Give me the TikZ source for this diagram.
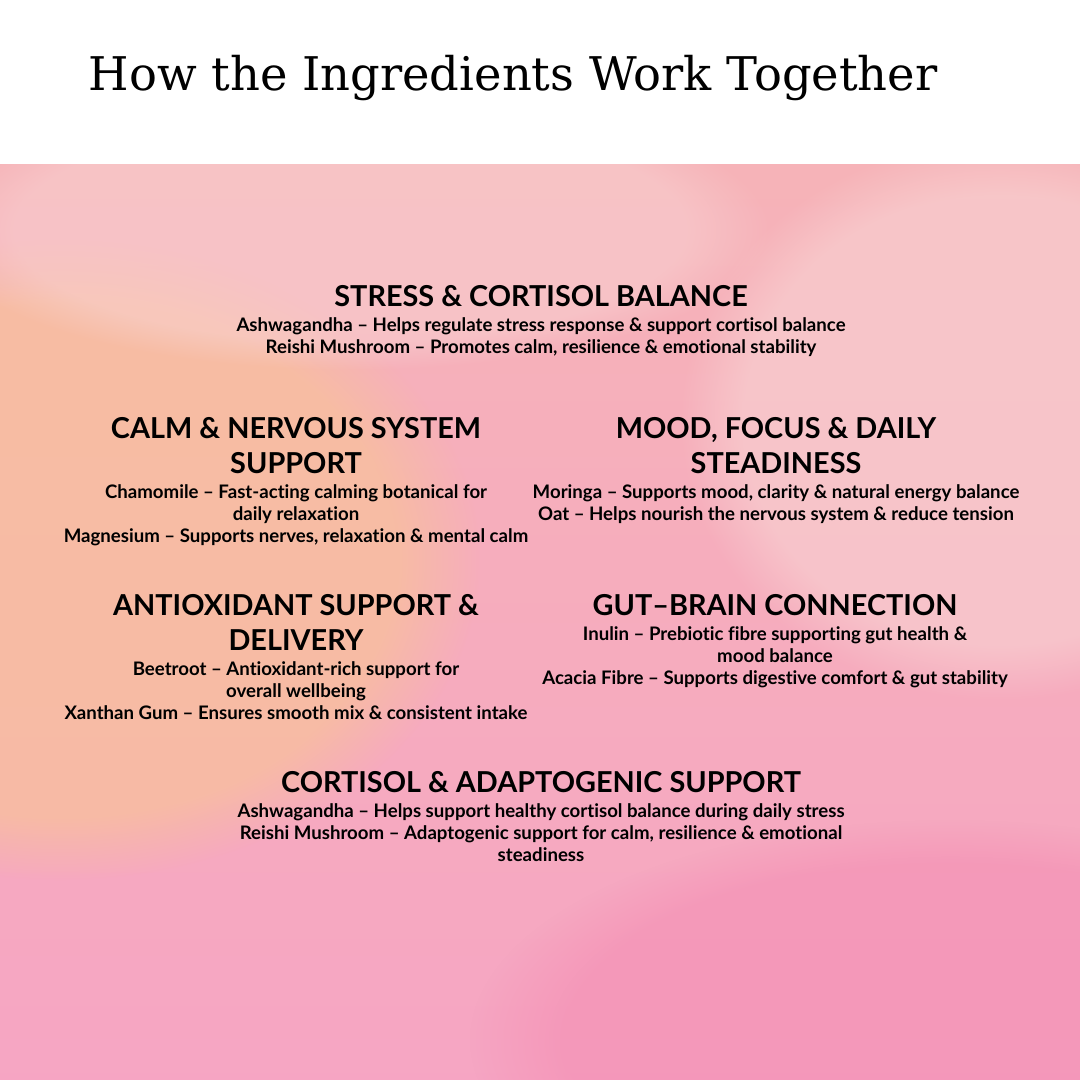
\documentclass[tikz,border=0pt]{standalone}
\usepackage{fontspec}
\setmainfont[Ligatures=NoCommon]{Lato}
\newfontfamily\titlefont{DejaVu Serif}
\usetikzlibrary{positioning,fadings}

\definecolor{wash}{HTML}{F6B3B8}
\definecolor{washpeach}{HTML}{F8C29A}
\definecolor{washrose}{HTML}{F48FB4}
\definecolor{washlight}{HTML}{F9D3D3}

\tikzset{
  head/.style={align=center, font=\fontsize{8.2}{9.9}\selectfont\bfseries, inner sep=0pt, anchor=north},
  body/.style={align=center, font=\fontsize{5.3}{6.26}\selectfont\bfseries, inner sep=0pt, anchor=north},
  blob/.style={path fading=circle with fuzzy edge 20 percent},
}

\begin{document}
\begin{tikzpicture}[x=0.01cm, y=-0.01cm]

\path [use as bounding box] (0,0) rectangle (1080,1080);

% BACKGROUND
\fill [white] (0,0) rectangle (1080,165);
\shade [top color=wash, bottom color=washrose!80] (0,165) rectangle (1080,1080);
\begin{scope}
\clip (0,165) rectangle (1080,1080);
\fill [washpeach, opacity=0.7, blob] (60,560) ellipse (420 and 320);
\fill [washlight, opacity=0.6, blob] (1000,420) ellipse (320 and 280);
\fill [washlight, opacity=0.5, blob] (350,230) ellipse (420 and 140);
\fill [washrose, opacity=0.6, blob] (950,1040) ellipse (480 and 220);
\end{scope}

% TITLE
\node [anchor=west, inner sep=0pt, font=\fontsize{13.2}{16}\selectfont\titlefont] (title) at (88,78) {How the Ingredients Work Together};

% STRESS
\node [head] (stressH) at (541,285) {STRESS \& CORTISOL BALANCE};
\node [body] (stressB) at (541,317) {Ashwagandha – Helps regulate stress response \& support cortisol balance\\Reishi Mushroom – Promotes calm, resilience \& emotional stability};

% CALM
\node [head] (calmH) at (296,417) {CALM \& NERVOUS SYSTEM\\SUPPORT};
\node [body] (calmB) at (296,484) {Chamomile – Fast-acting calming botanical for\\daily relaxation\\Magnesium – Supports nerves, relaxation \& mental calm};

% MOOD
\node [head] (moodH) at (776,417) {MOOD, FOCUS \& DAILY\\STEADINESS};
\node [body] (moodB) at (776,484) {Moringa – Supports mood, clarity \& natural energy balance\\Oat – Helps nourish the nervous system \& reduce tension};

% ANTIOXIDANT
\node [head] (antiH) at (296,594) {ANTIOXIDANT SUPPORT \&\\DELIVERY};
\node [body] (antiB) at (296,661) {Beetroot – Antioxidant-rich support for\\overall wellbeing\\Xanthan Gum – Ensures smooth mix \& consistent intake};

% GUT
\node [head] (gutH) at (775,594) {GUT–BRAIN CONNECTION};
\node [body] (gutB) at (775,626) {Inulin – Prebiotic fibre supporting gut health \&\\mood balance\\Acacia Fibre – Supports digestive comfort \& gut stability};

% CORTISOL
\node [head] (cortH) at (541,771) {CORTISOL \& ADAPTOGENIC SUPPORT};
\node [body] (cortB) at (541,803) {Ashwagandha – Helps support healthy cortisol balance during daily stress\\Reishi Mushroom – Adaptogenic support for calm, resilience \& emotional\\steadiness};

\end{tikzpicture}
\end{document}
